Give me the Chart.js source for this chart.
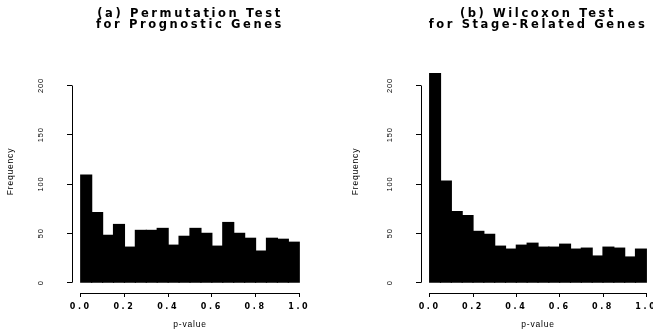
<!DOCTYPE html>
<html lang="en">
<head>
<meta charset="utf-8">
<title>p-value histograms</title>
<script src="https://cdn.jsdelivr.net/npm/chart.js@4.4.1/dist/chart.umd.min.js"></script>
<style>
  body { margin: 0; background: #fff; overflow: hidden; }
  #figure { position: relative; width: 653px; height: 331px; overflow: hidden; background: #fff; }
  canvas { position: absolute; top: 0; }
  #permutation { left: 0; }
  #wilcoxon { left: 345px; }
</style>
</head>
<body>
<div id="figure">
  <canvas id="permutation" width="330" height="331"></canvas>
  <canvas id="wilcoxon" width="330" height="331"></canvas>
</div>
<script>
// bins of width 0.05, one bar per bin (mid points)
const binMids = [0.025, 0.075, 0.125, 0.175, 0.225, 0.275, 0.325, 0.375, 0.425, 0.475,
                 0.525, 0.575, 0.625, 0.675, 0.725, 0.775, 0.825, 0.875, 0.925, 0.975];
const permutationCounts = [109, 71, 48, 59, 36, 53, 53, 55, 38, 47, 55, 50, 37, 61, 50, 45, 32, 45, 44, 41];
const wilcoxonCounts = [212, 103, 72, 68, 52, 49, 37, 34, 38, 40, 36, 36, 39, 34, 35, 27, 36, 35, 26, 34];

const xTicks = [0, 0.2, 0.4, 0.6, 0.8, 1.0];
const xTickLabels = ['0.0', '0.2', '0.4', '0.6', '0.8', '1.0'];
const yTicks = [0, 50, 100, 150, 200];

const titlePermutation = ['(a) Permutation Test', 'for Prognostic Genes'];
const titleWilcoxon = ['(b) Wilcoxon Test', 'for Stage-Related Genes'];

// wide lettering for title and x labels, tighter for the rest
const letterSpacing = {
    id: 'letterSpacing',
    beforeDraw(chart) { chart.ctx.letterSpacing = '2.6px'; },
    afterDatasetsDraw(chart) { chart.ctx.letterSpacing = '0.8px'; },
    afterDraw(chart) { chart.ctx.letterSpacing = '0px'; }
};

// R style axis lines: only from first to last tick
const rAxes = {
    id: 'rAxes',
    afterDraw(chart) {
        const { ctx, chartArea, scales } = chart;
        const xt = scales.x.ticks;
        const yt = scales.y.ticks;
        const bx = Math.round(chartArea.left - 0.5) + 0.5;
        const by = Math.round(chartArea.bottom - 0.5) + 0.5;
        ctx.save();
        ctx.strokeStyle = '#000';
        ctx.lineWidth = 1;
        ctx.beginPath();
        ctx.moveTo(scales.x.getPixelForValue(xt[0].value), by);
        ctx.lineTo(scales.x.getPixelForValue(xt[xt.length - 1].value), by);
        ctx.moveTo(bx, scales.y.getPixelForValue(yt[0].value));
        ctx.lineTo(bx, scales.y.getPixelForValue(yt[yt.length - 1].value));
        ctx.stroke();
        ctx.restore();
    }
};

function plotHistogram(canvasId, title, counts, yAxisWidth, rightPad) {
    const data = {
        datasets: [{
            data: binMids.map((x, i) => ({ x: x, y: counts[i] })),
            backgroundColor: '#000',
            borderWidth: 0,
            barPercentage: 1,
            categoryPercentage: 1,
            inflateAmount: 0.6
        }]
    };

    const config = {
        type: 'bar',
        data: data,
        options: {
            responsive: false,
            animation: false,
            events: [],
            layout: { padding: { left: 0, right: rightPad, top: 0, bottom: 0 } },
            plugins: {
                legend: { display: false },
                tooltip: { enabled: false },
                title: {
                    display: true,
                    text: title,
                    fullSize: false,
                    color: '#000',
                    font: { family: 'DejaVu Sans', size: 11.5, weight: 'bold', lineHeight: '10.5px' },
                    padding: { top: 9, bottom: 20 }
                }
            },
            scales: {
                x: {
                    type: 'linear',
                    min: -0.04,
                    max: 1.04,
                    offset: false,
                    afterBuildTicks: (scale) => { scale.ticks = xTicks.map(v => ({ value: v })); },
                    afterFit: (scale) => { scale.height = 38; },
                    border: { display: false },
                    grid: { offset: false, drawOnChartArea: false, drawTicks: true, tickLength: 4, color: '#000', z: 1 },
                    ticks: {
                        autoSkip: false,
                        maxRotation: 0,
                        padding: 5,
                        color: '#000',
                        font: { family: 'DejaVu Sans', size: 8, weight: 'bold' },
                        callback: (value, index) => xTickLabels[index]
                    },
                    title: {
                        display: true,
                        text: 'p-value',
                        color: '#000',
                        font: { family: 'Liberation Sans', size: 8.5 },
                        padding: { top: 0, bottom: 1 }
                    }
                },
                y: {
                    min: -10.5,
                    max: 236,
                    afterBuildTicks: (scale) => { scale.ticks = yTicks.map(v => ({ value: v })); },
                    afterFit: (scale) => { scale.width = yAxisWidth; },
                    border: { display: false },
                    grid: { drawOnChartArea: false, drawTicks: true, tickLength: 5, color: '#000', z: 1 },
                    ticks: {
                        minRotation: 90,
                        maxRotation: 90,
                        crossAlign: 'center',
                        padding: 20,
                        color: '#000',
                        font: { family: 'Liberation Sans', size: 7.5 },
                        z: 1
                    },
                    title: {
                        display: true,
                        text: 'Frequency',
                        color: '#000',
                        font: { family: 'Liberation Sans', size: 8.5 },
                        padding: { top: 6, bottom: 0 }
                    }
                }
            }
        },
        plugins: [letterSpacing, rAxes]
    };

    return new Chart(document.getElementById(canvasId), config);
}

plotHistogram('permutation', titlePermutation, permutationCounts, 72, 22);
plotHistogram('wilcoxon', titleWilcoxon, wilcoxonCounts, 76, 20);
</script>
</body>
</html>
